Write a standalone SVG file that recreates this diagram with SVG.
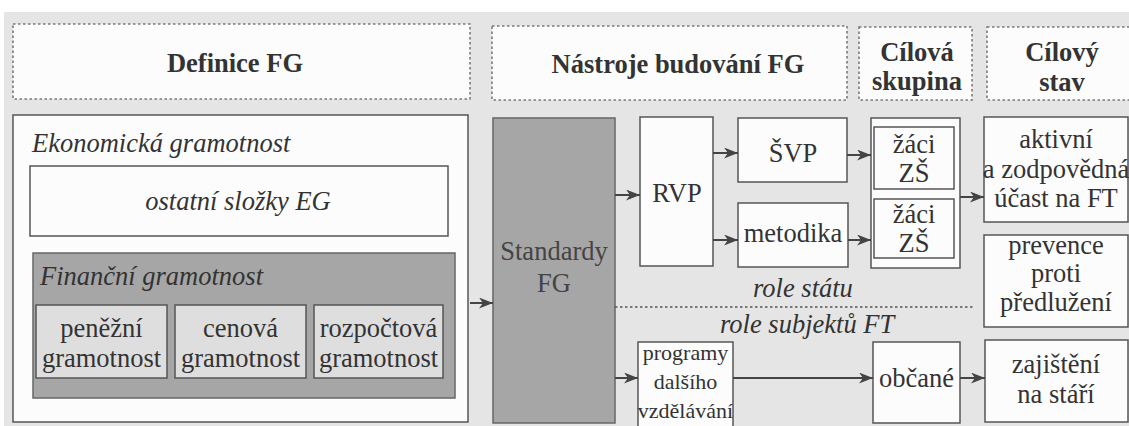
<svg xmlns="http://www.w3.org/2000/svg" width="1129" height="426" viewBox="0 0 1129 426">
<style>
text{font-family:'Liberation Serif','Tinos','Noto Serif','Times New Roman','DejaVu Serif',serif}
.t{font-size:26.5px;fill:#333;text-anchor:middle}
.l{text-anchor:start}
.b{font-weight:bold}
.i{font-style:italic}
.sm{font-size:22px}
.box{fill:#fcfcfc;stroke:#555;stroke-width:1.5}
.hdr{fill:#fcfcfc;stroke:#7a7a7a;stroke-width:1.6;stroke-dasharray:2.5 2.5}
.dark{fill:#a6a6a6;stroke:#666;stroke-width:1.5}
.sub{fill:#dedede;stroke:#555;stroke-width:1.5}
.conn line{stroke:#444;stroke-width:2;marker-end:url(#ah)}
.div{stroke:#555;stroke-width:1.3;stroke-dasharray:2.5 2.5}
</style>
<defs>
<marker id="ah" markerUnits="userSpaceOnUse" markerWidth="15" markerHeight="11" refX="14" refY="5.5" orient="auto">
<path d="M0,0 L14,5.5 L0,11 L4,5.5 z" fill="#444"/>
</marker>
</defs>
<rect x="0" y="0" width="1129" height="426" fill="#ffffff"/>
<rect x="4" y="12" width="1125" height="414" fill="#e5e5e5"/>

<g id="hdr-definice">
<rect class="hdr" x="13" y="24" width="457" height="75"/>
<text class="t b" x="235" y="72">Definice FG</text>
</g>
<g id="hdr-nastroje">
<rect class="hdr" x="492" y="26" width="355" height="74"/>
<text class="t b" x="678" y="73">Nástroje budování FG</text>
</g>
<g id="hdr-cilova">
<rect class="hdr" x="859" y="27" width="113" height="73"/>
<text class="t b" x="917" y="61">Cílová</text>
<text class="t b" x="917" y="90">skupina</text>
</g>
<g id="hdr-cilovy">
<rect class="hdr" x="987" y="27" width="150" height="73"/>
<text class="t b" x="1062" y="61">Cílový</text>
<text class="t b" x="1062" y="91">stav</text>
</g>

<g id="ekonomicka">
<rect class="box" x="13" y="115" width="455" height="307"/>
<text class="t i l" x="32" y="152">Ekonomická gramotnost</text>
</g>
<g id="ostatni">
<rect class="box" x="30" y="166" width="418" height="70"/>
<text class="t i" x="238" y="210">ostatní složky EG</text>
</g>
<g id="financni">
<rect class="dark" x="33" y="253" width="422" height="145"/>
<text class="t i l" x="40" y="285">Finanční gramotnost</text>
</g>
<g id="penezni">
<rect class="sub" x="36" y="305" width="131" height="73"/>
<text class="t" x="101.5" y="337">peněžní</text>
<text class="t" x="101.5" y="367">gramotnost</text>
</g>
<g id="cenova">
<rect class="sub" x="175" y="305" width="131" height="73"/>
<text class="t" x="240.5" y="337">cenová</text>
<text class="t" x="240.5" y="367">gramotnost</text>
</g>
<g id="rozpoctova">
<rect class="sub" x="314" y="305" width="129" height="73"/>
<text class="t" x="378.5" y="337">rozpočtová</text>
<text class="t" x="378.5" y="367">gramotnost</text>
</g>

<g id="standardy">
<rect class="dark" x="493" y="118" width="122" height="305"/>
<text class="t" x="554" y="260" style="fill:#444">Standardy</text>
<text class="t" x="554" y="292" style="fill:#444">FG</text>
</g>
<g id="rvp">
<rect class="box" x="640" y="117" width="73" height="149"/>
<text class="t" x="677" y="202">RVP</text>
</g>
<g id="svp">
<rect class="box" x="738" y="118" width="109" height="64"/>
<text class="t" x="793" y="162">ŠVP</text>
</g>
<g id="metodika">
<rect class="box" x="738" y="203" width="110" height="64"/>
<text class="t" x="793" y="242">metodika</text>
</g>
<g id="zaci">
<rect class="box" x="871" y="118" width="89" height="150"/>
<rect class="box" x="874" y="127" width="80" height="62"/>
<text class="t" x="914" y="153">žáci</text>
<text class="t" x="914" y="182">ZŠ</text>
<rect class="box" x="874" y="199" width="80" height="59"/>
<text class="t" x="914" y="223">žáci</text>
<text class="t" x="914" y="252">ZŠ</text>
</g>
<g id="aktivni">
<rect class="box" x="984" y="117" width="144" height="105"/>
<text class="t" x="1056" y="148">aktivní</text>
<text class="t" x="1056" y="178">a zodpovědná</text>
<text class="t" x="1056" y="207">účast na FT</text>
</g>
<g id="prevence">
<rect class="box" x="984" y="235" width="144" height="92"/>
<text class="t" x="1056" y="254">prevence</text>
<text class="t" x="1056" y="282">proti</text>
<text class="t" x="1056" y="311">předlužení</text>
</g>
<g id="zajisteni">
<rect class="box" x="985" y="340" width="143" height="82"/>
<text class="t" x="1056" y="373">zajištění</text>
<text class="t" x="1056" y="403">na stáří</text>
</g>
<g id="programy">
<rect class="box" x="638" y="342" width="95" height="86"/>
<text class="t sm" x="685.5" y="360">programy</text>
<text class="t sm" x="685.5" y="389">dalšího</text>
<text class="t sm" x="685.5" y="418">vzdělávání</text>
</g>
<g id="obcane">
<rect class="box" x="873" y="342" width="87" height="81"/>
<text class="t" x="916.5" y="387">občané</text>
</g>

<g id="roles">
<line class="div" x1="615" y1="307" x2="975" y2="307"/>
<text class="t i l" x="753" y="297">role státu</text>
<text class="t i l" x="720" y="333">role subjektů FT</text>
</g>

<g id="connectors" class="conn">
<line x1="470" y1="303" x2="493" y2="303"/>
<line x1="615" y1="195" x2="640" y2="195"/>
<line x1="615" y1="378" x2="638" y2="378"/>
<line x1="713" y1="153" x2="738" y2="153"/>
<line x1="713" y1="240" x2="738" y2="240"/>
<line x1="847" y1="155" x2="871" y2="155"/>
<line x1="848" y1="240" x2="871" y2="240"/>
<line x1="960" y1="197" x2="984" y2="197"/>
<line x1="733" y1="378" x2="873" y2="378"/>
<line x1="960" y1="378" x2="985" y2="378"/>
</g>
</svg>
